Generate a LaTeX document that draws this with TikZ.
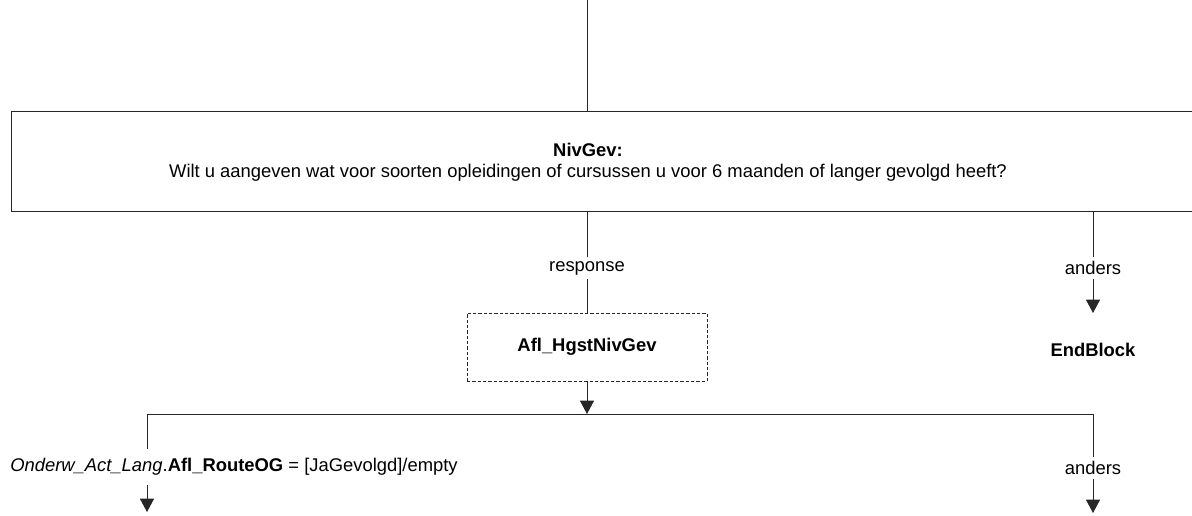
\documentclass[tikz,border=0pt]{standalone}
\usepackage{fontspec}
\setmainfont{Liberation Sans}
\usetikzlibrary{arrows.meta}
\begin{document}
\begin{tikzpicture}[x=0.75pt,y=-0.75pt,
  every node/.style={font=\fontsize{13.8}{16}\selectfont},
  conn/.style={draw=black!85,line width=0.7pt},
  arr/.style={conn,-{Triangle[length=10pt,width=10.5pt]}},
  lbl/.style={fill=white,inner sep=3pt},
  dbox/.style={draw=black!85,line width=0.7pt,dash pattern=on 2.5pt off 1.5pt,minimum width=240*0.75pt,minimum height=68*0.75pt,font=\fontsize{13.8}{16}\selectfont\bfseries},
  endb/.style={font=\fontsize{13.8}{16}\selectfont\bfseries}]
\useasboundingbox (0,0) rectangle (1192,515);
\clip (0,0) rectangle (1192,515);
\coordinate (top) at (587,0);
\draw[draw=black!85,line width=0.75pt] (1200,111) -- (11,111) -- (11,211) -- (1200,211);
\coordinate (boxtop) at (587,111);
\node (q) at (588,162) [align=center] {\textbf{NivGev:}\\Wilt u aangeven wat voor soorten opleidingen of cursussen u voor 6 maanden of langer gevolgd heeft?};
\coordinate (qb) at (587,211);
\coordinate (qbr) at (1093,211);
\node[lbl] (resp) at (587,268) {response};
\node[dbox] (afl) at (587,347) {Afl\_HgstNivGev};
\node[lbl] (and1) at (1093,268) {anders};
\node[endb] (endb) at (1093,350) {EndBlock};
\coordinate (bar) at (587,414);
\coordinate (barl) at (147,414);
\coordinate (barr) at (1093,414);
\node[lbl,anchor=west,inner sep=0pt,minimum height=26pt] (cond) at (10,467) {\textit{Onderw\_Act\_Lang}.\textbf{Afl\_RouteOG} = [JaGevolgd]/empty};
\node[lbl] (and2) at (1093,468) {anders};
\coordinate (outl) at (147,512);
\coordinate (outr) at (1093,513);
\draw[conn] (top) -- (boxtop);
\draw[conn] (qb) -- (resp) -- (afl);
\draw[conn] (qbr) -- (and1);
\draw[arr] (and1) -- (endb.north |- 0,313);
\draw[arr] (afl) -- (bar);
\draw[conn] (barl) -- (barr);
\draw[conn] (barl) -- (barl |- cond.north);
\draw[arr] (barl |- cond.south) -- (outl);
\draw[conn] (barr) -- (and2);
\draw[arr] (and2) -- (outr);
\end{tikzpicture}
\end{document}
